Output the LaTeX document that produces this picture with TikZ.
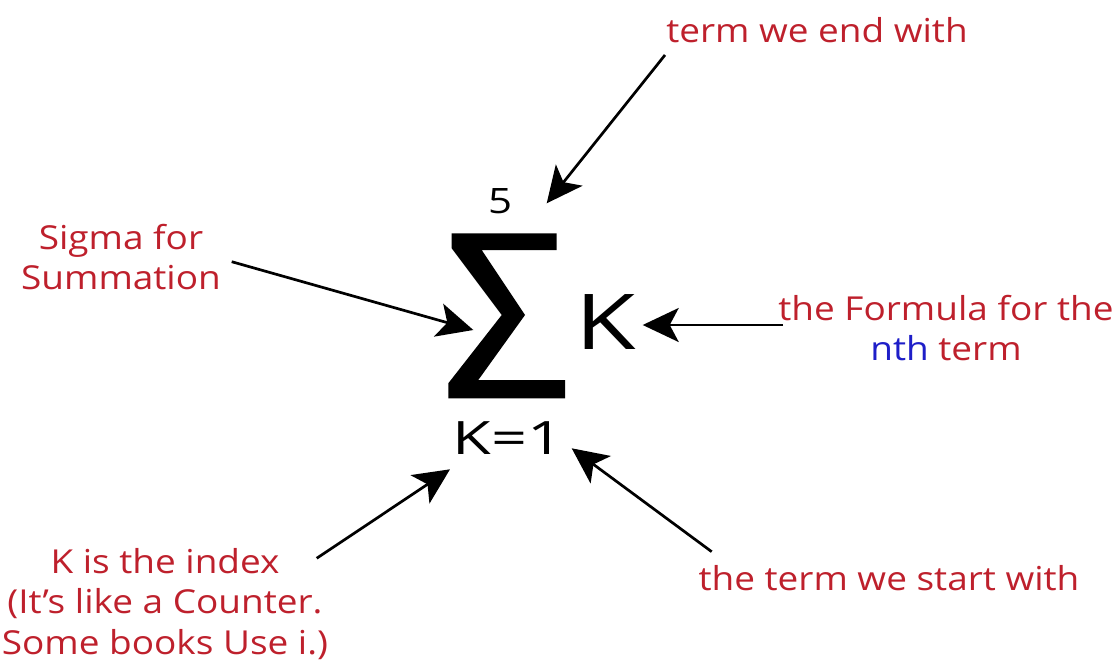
\documentclass[tikz,border=0pt]{standalone}
\usepackage{fontspec}
\setmainfont[FakeStretch=1.12]{Open Sans}
\newfontfamily\symfont{Open Sans}
\usetikzlibrary{arrows.meta}
\definecolor{lblred}{RGB}{190,32,44}
\definecolor{lblblue}{RGB}{30,30,200}
\tikzset{
  lbl/.style={text=lblred, align=center, inner sep=0pt, font=\fontsize{33}{40.5}\selectfont},
  mathtxt/.style={text=black, inner sep=0pt},
  pointer/.style={draw=black, line width=2.7pt, -{Stealth[length=36pt, width=34pt, inset=9pt]}},
}
\begin{document}
\begin{tikzpicture}[x=1pt, y=-1pt]
\useasboundingbox (0,0) rectangle (1118,666);
% sigma glyph
\fill[black] (451.7,233.3) -- (556.7,233.3) -- (556.7,250) -- (481.7,250) -- (525,315)
  -- (478.3,380) -- (565,380) -- (565,398.3) -- (448.3,398.3) -- (448.3,383.3)
  -- (501.7,315) -- (451.7,248.3) -- cycle;
\node[inner sep=0pt, minimum width=117pt, minimum height=165pt] (sig) at (506.6,315.8) {};
\node[mathtxt, font=\symfont\fontsize{35}{35}\selectfont] (upper) at (500,201) {\scalebox{1.2}[1]{5}};
\node[mathtxt, font=\symfont\fontsize{77}{77}\selectfont] (term) at (605.5,322.5) {\scalebox{1.28}[1]{K}};
\node[mathtxt, font=\symfont\fontsize{46}{46}\selectfont] (lower) at (508,438) {\scalebox{1.37}[1]{K=1}};
% labels
\node[lbl] (lend) at (817,30) {term we end with};
\node[lbl] (lsig) at (121,257) {Sigma for\\Summation};
\node[lbl] (lform) at (946,328) {the Formula for the\\\textcolor{lblblue}{nth} term};
\node[lbl] (lidx) at (165,604) {K is the index\\(It’s like a Counter.\\Some books Use i.)};
\node[lbl] (lstart) at (889,578) {the term we start with};
% connector ends
\coordinate (a1s) at (665,55);
\coordinate (a1t) at (546.7,203.3);
\coordinate (a2s) at (231.7,261.7);
\coordinate (a2t) at (473.3,330);
\coordinate (a3s) at (783,325);
\coordinate (a3t) at (642.7,325);
\coordinate (a4s) at (316.7,558.3);
\coordinate (a4t) at (450,469.3);
\coordinate (a5s) at (711.7,551.7);
\coordinate (a5t) at (571.7,448.3);
\draw[pointer] (a1s) -- (a1t);
\draw[pointer] (a2s) -- (a2t);
\draw[pointer] (a3s) -- (a3t);
\draw[pointer] (a4s) -- (a4t);
\draw[pointer] (a5s) -- (a5t);
\end{tikzpicture}
\end{document}
